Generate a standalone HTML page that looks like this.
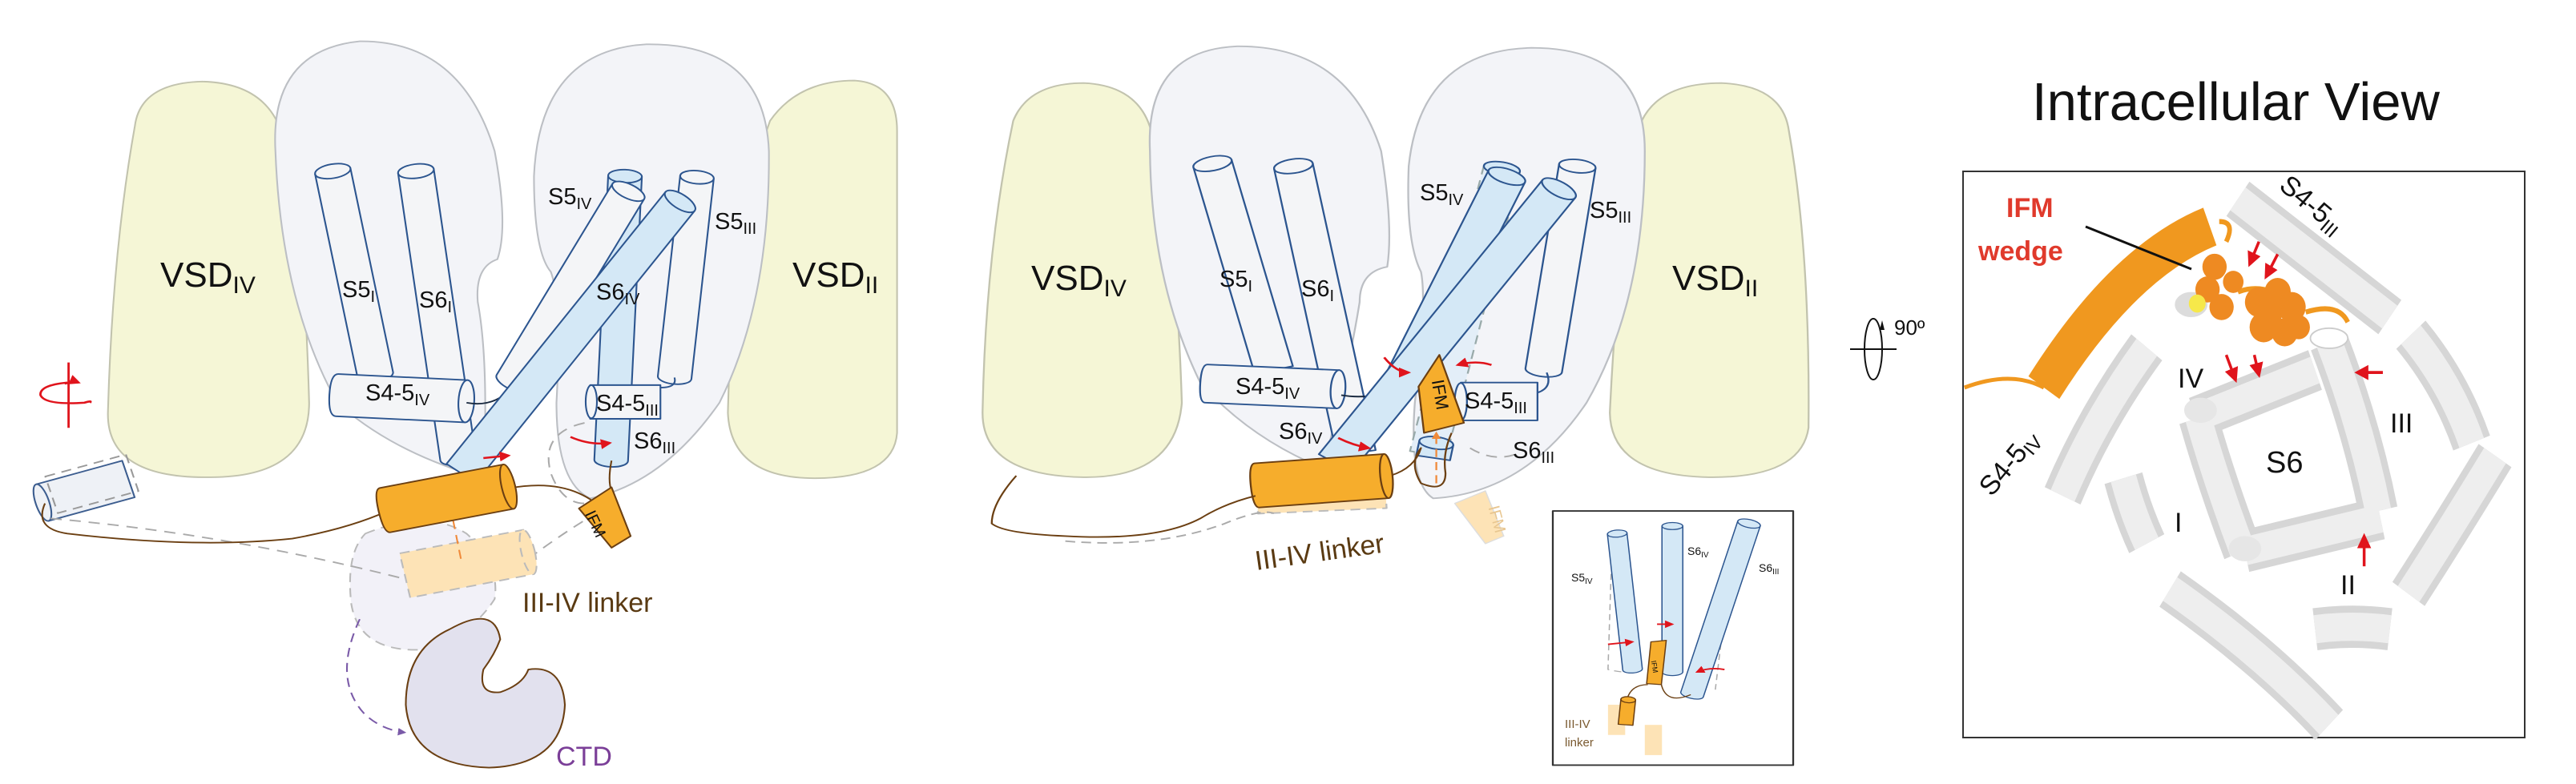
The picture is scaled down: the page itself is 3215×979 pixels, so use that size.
<!DOCTYPE html>
<html><head><meta charset="utf-8"><style>
html,body{margin:0;padding:0;background:#fff;}
svg{display:block;font-family:"Liberation Sans",Arial,sans-serif;}
</style></head><body>
<svg width="3215" height="979" viewBox="0 0 3215 979" xmlns="http://www.w3.org/2000/svg">
<defs>
<marker id="ar" viewBox="0 0 10 10" refX="8" refY="5" markerWidth="5" markerHeight="5" orient="auto"><path d="M0 0 L10 5 L0 10 Z" fill="#e0141c"/></marker>
<marker id="ap" viewBox="0 0 10 10" refX="8" refY="5" markerWidth="5" markerHeight="5" orient="auto"><path d="M0 0 L10 5 L0 10 Z" fill="#7a5aa8"/></marker>
<marker id="ao" viewBox="0 0 10 10" refX="8" refY="5" markerWidth="5" markerHeight="5" orient="auto"><path d="M0 0 L10 5 L0 10 Z" fill="#f08a3a"/></marker>
</defs>

<!-- ================= PANEL 1 ================= -->
<g transform="scale(0.7015,0.6286)" stroke-linejoin="round">
  <path d="M240 250 Q250 165 360 162 Q470 165 500 260 Q540 400 550 800 Q550 950 370 948 Q190 950 192 820 Q200 500 240 250 Z" fill="#f5f6d6" stroke="#c2c3ae" stroke-width="3"/>
  <path d="M1370 240 Q1420 160 1520 160 Q1596 165 1596 260 L1596 860 Q1590 950 1450 950 Q1300 950 1295 820 Q1300 600 1320 400 Z" fill="#f5f6d6" stroke="#c2c3ae" stroke-width="3"/>
  <path d="M490 300 Q480 100 640 82 Q820 80 880 300 Q905 450 885 515 Q845 530 850 600 Q870 720 860 950 Q700 900 600 800 Q500 600 490 300 Z" fill="#f3f4f8" stroke="#bcbfc4" stroke-width="3"/>
  <path d="M950 350 Q960 100 1150 88 Q1360 85 1368 300 Q1370 600 1280 800 Q1180 960 1050 990 Q990 960 990 800 Q1000 600 980 540 Q950 500 950 350 Z" fill="#f3f4f8" stroke="#bcbfc4" stroke-width="3"/>
  <path d="M650 1060 Q760 1010 830 1060 Q890 1120 880 1190 Q840 1260 760 1290 Q640 1300 625 1200 Q615 1100 650 1060 Z" fill="#efeef7" stroke="#aaa" stroke-width="3" stroke-dasharray="18 12" opacity="0.8"/>
  <g transform="translate(1112,350) rotate(2.5)"><path d="M-30 0 V565 A30 13 0 0 0 30 565 V0 Z" fill="#d4e8f6" stroke="#2c558f" stroke-width="3"/><ellipse rx="30" ry="13" fill="#d4e8f6" stroke="#2c558f" stroke-width="3"/></g>
  <g transform="translate(1240,352) rotate(5.7)"><path d="M-30 0 V400 A30 13 0 0 0 30 400 V0 Z" fill="#f4f5f7" stroke="#2c558f" stroke-width="3"/><ellipse rx="30" ry="13" fill="#f4f5f7" stroke="#2c558f" stroke-width="3"/></g>
  <g transform="translate(592,340) rotate(-10.6)"><path d="M-32 0 V412 A32 14 0 0 0 32 412 V0 Z" fill="#f4f5f7" stroke="#2c558f" stroke-width="3"/><ellipse rx="32" ry="14" fill="#f4f5f7" stroke="#2c558f" stroke-width="3"/></g>
  <g transform="translate(740,340) rotate(-7.5)"><path d="M-32 0 V575 A32 14 0 0 0 32 575 V0 Z" fill="#f4f5f7" stroke="#2c558f" stroke-width="3"/><ellipse rx="32" ry="14" fill="#f4f5f7" stroke="#2c558f" stroke-width="3"/></g>
  <g transform="translate(600,785) rotate(3)"><path d="M0 -42 H230 V42 H0 Q-14 42 -14 0 Q-14 -42 0 -42 Z" fill="#f4f5f7" stroke="#2c558f" stroke-width="3"/><ellipse cx="230" rx="14" ry="42" fill="#f4f5f7" stroke="#2c558f" stroke-width="3"/></g>
  <path d="M830 800 Q880 810 910 770" fill="none" stroke="#1a2a40" stroke-width="3"/>
  <g><path d="M1050 765 H1175 V832 H1050 Q1040 800 1050 765 Z" fill="#f4f5f7" stroke="#2c558f" stroke-width="3"/><ellipse cx="1052" cy="798" rx="10" ry="33" fill="#f4f5f7" stroke="#2c558f" stroke-width="3"/></g>
  <path d="M1175 770 Q1205 770 1200 750" fill="none" stroke="#2c558f" stroke-width="3"/>
  <g transform="translate(1118,380) rotate(28.5)"><path d="M-32 0 V432 A32 14 0 0 0 32 432 V0 Z" fill="#f4f5f7" stroke="#2c558f" stroke-width="3"/><ellipse rx="32" ry="14" fill="#f4f5f7" stroke="#2c558f" stroke-width="3"/></g>
  <g transform="translate(1210,400) rotate(35.8)"><path d="M-32 0 V666 L32 666 V0 Z" fill="#d4e8f6" stroke="#2c558f" stroke-width="3"/><ellipse rx="32" ry="14" fill="#d4e8f6" stroke="#2c558f" stroke-width="3"/></g>
  <g transform="translate(152,975) rotate(-17)"><rect x="-80" y="-38" width="160" height="76" fill="#eef1f6" stroke="#3c5d8f" stroke-width="3"/><ellipse cx="-80" rx="12" ry="38" fill="#eef1f6" stroke="#3c5d8f" stroke-width="3"/><rect x="-60" y="-48" width="150" height="76" fill="none" stroke="#999" stroke-width="3" stroke-dasharray="18 12"/></g>
  <path d="M90 1030 Q400 1060 720 1150" fill="none" stroke="#aaa" stroke-width="3" stroke-dasharray="20 14"/>
  <path d="M940 1110 Q1000 1060 1060 1020" fill="none" stroke="#aaa" stroke-width="3" stroke-dasharray="20 14"/>
  <path d="M1040 840 Q960 860 980 940 Q1000 1000 1040 1000" fill="none" stroke="#aaa" stroke-width="3" stroke-dasharray="20 14"/>
  <g transform="translate(830,1120) rotate(-12)"><rect x="-112" y="-45" width="225" height="90" fill="#fde3b6" stroke="#bbb" stroke-width="3" stroke-dasharray="18 12"/><ellipse cx="112" rx="12" ry="45" fill="#fde3b6" stroke="#bbb" stroke-width="3" stroke-dasharray="18 12"/></g>
  <path d="M820 1110 L800 1000" stroke="#f08a3a" stroke-width="3" stroke-dasharray="18 12" marker-end="url(#ao)"/>
  <path d="M80 1000 Q60 1050 120 1060 Q350 1090 520 1070 Q620 1050 690 1015" fill="none" stroke="#6b3f12" stroke-width="3"/>
  <path d="M905 970 Q980 955 1030 980 Q1060 995 1065 1010" fill="none" stroke="#6b3f12" stroke-width="3"/>
  <path d="M1088 915 Q1080 960 1090 980" fill="none" stroke="#6b3f12" stroke-width="3"/>
  <g transform="translate(795,990) rotate(-12)"><path d="M-112 -45 H112 V45 H-112 Q-124 45 -124 0 Q-124 -45 -112 -45 Z" fill="#f6ad2c" stroke="#6b3f12" stroke-width="3"/><ellipse cx="112" rx="12" ry="45" fill="#f6ad2c" stroke="#6b3f12" stroke-width="3"/></g>
  <polygon points="1030,1010 1088,968 1122,1065 1088,1088" fill="#f6ad2c" stroke="#6b3f12" stroke-width="3"/>
  <path d="M800 1250 Q880 1200 890 1270 Q880 1300 860 1330 Q850 1380 890 1375 Q930 1360 940 1330 Q1000 1320 1005 1400 Q1000 1520 870 1525 Q730 1520 722 1400 Q722 1290 800 1250 Z" fill="#e2e1ee" stroke="#6b3f12" stroke-width="3"/>
  <path d="M640 1230 Q590 1350 650 1420 Q680 1450 720 1455" fill="none" stroke="#7a5aa8" stroke-width="3" stroke-dasharray="18 12" marker-end="url(#ap)"/>
  <path d="M860 910 L905 905" stroke="#e0141c" stroke-width="4" marker-end="url(#ar)"/>
  <path d="M1015 868 Q1050 885 1085 880" fill="none" stroke="#e0141c" stroke-width="4" marker-end="url(#ar)"/>
  <line x1="122" y1="720" x2="122" y2="850" stroke="#e0141c" stroke-width="4"/>
  <path d="M120 760 Q70 765 72 785 Q80 805 150 800 Q165 795 160 800" fill="none" stroke="#e0141c" stroke-width="4"/>
  <path d="M115 762 Q135 758 140 760" fill="none" stroke="#e0141c" stroke-width="4" marker-end="url(#ar)"/>
</g>
<g font-size="44" fill="#111">
  <text x="200" y="358">VSD<tspan font-size="30" dy="8">IV</tspan></text>
  <text x="989" y="358">VSD<tspan font-size="30" dy="8">II</tspan></text>
</g>
<g font-size="29" fill="#111">
  <text x="427" y="371">S5<tspan font-size="20" dy="6">I</tspan></text>
  <text x="523" y="384">S6<tspan font-size="20" dy="6">I</tspan></text>
  <text x="684" y="255">S5<tspan font-size="20" dy="6">IV</tspan></text>
  <text x="744" y="374">S6<tspan font-size="20" dy="6">IV</tspan></text>
  <text x="892" y="286">S5<tspan font-size="20" dy="6">III</tspan></text>
  <text x="456" y="500">S4-5<tspan font-size="20" dy="6">IV</tspan></text>
  <text x="744" y="513">S4-5<tspan font-size="20" dy="6">III</tspan></text>
  <text x="791" y="560">S6<tspan font-size="20" dy="6">III</tspan></text>
</g>
<text x="737" y="657" font-size="20" fill="#111" transform="rotate(65 737 657)" text-anchor="middle">IFM</text>
<text x="652" y="764" font-size="34" fill="#5a3a12">III-IV linker</text>
<text x="694" y="956" font-size="34" fill="#7b3f98">CTD</text>

<!-- ================= PANEL 2 ================= -->
<g transform="translate(1100,0) scale(0.7653,0.6286)" stroke-linejoin="round">
  <path d="M215 240 Q240 165 330 165 Q420 170 440 260 Q480 420 490 800 Q480 950 330 948 Q165 945 165 820 Q170 500 215 240 Z" fill="#f5f6d6" stroke="#c2c3ae" stroke-width="3"/>
  <path d="M1240 240 Q1270 165 1370 165 Q1470 170 1480 260 Q1515 500 1512 850 Q1500 950 1350 948 Q1190 945 1188 820 Q1200 500 1240 240 Z" fill="#f5f6d6" stroke="#c2c3ae" stroke-width="3"/>
  <path d="M438 300 Q430 100 580 92 Q760 90 815 300 Q835 450 825 530 Q780 540 780 600 Q760 750 720 930 Q600 870 520 760 Q440 560 438 300 Z" fill="#f3f4f8" stroke="#bcbfc4" stroke-width="3"/>
  <path d="M860 330 Q880 100 1060 95 Q1245 95 1245 300 Q1245 600 1150 800 Q1050 980 900 990 Q860 960 870 800 Q890 600 880 540 Q855 480 860 330 Z" fill="#f3f4f8" stroke="#bcbfc4" stroke-width="3"/>
  <g transform="translate(1012,335) rotate(12)"><path d="M-30 0 V580 L30 580 V0 Z" fill="#e3eef8" stroke="#9aa" stroke-width="3" stroke-dasharray="18 12"/><ellipse rx="30" ry="13" fill="#d4e8f6" stroke="#2c558f" stroke-width="3"/></g>
  <g transform="translate(1135,330) rotate(7.7)"><path d="M-30 0 V409 A30 13 0 0 0 30 409 V0 Z" fill="#f4f5f7" stroke="#2c558f" stroke-width="3"/><ellipse rx="30" ry="13" fill="#f4f5f7" stroke="#2c558f" stroke-width="3"/></g>
  <g transform="translate(540,325) rotate(-13.7)"><path d="M-32 0 V422 L32 422 V0 Z" fill="#f4f5f7" stroke="#2c558f" stroke-width="3"/><ellipse rx="32" ry="14" fill="#f4f5f7" stroke="#2c558f" stroke-width="3"/></g>
  <g transform="translate(672,330) rotate(-10.2)"><path d="M-32 0 V579 L32 579 V0 Z" fill="#f4f5f7" stroke="#2c558f" stroke-width="3"/><ellipse rx="32" ry="14" fill="#f4f5f7" stroke="#2c558f" stroke-width="3"/></g>
  <g transform="translate(530,762) rotate(3)"><path d="M0 -38 H215 V38 H0 Q-10 38 -10 0 Q-10 -38 0 -38 Z" fill="#f4f5f7" stroke="#2c558f" stroke-width="3"/><ellipse cx="215" rx="12" ry="38" fill="#f4f5f7" stroke="#2c558f" stroke-width="3"/></g>
  <path d="M750 785 Q800 795 840 770" fill="none" stroke="#1a2a40" stroke-width="3"/>
  <g><path d="M945 760 H1070 V835 H945 Q935 800 945 760 Z" fill="#f4f5f7" stroke="#2c558f" stroke-width="3"/><ellipse cx="945" cy="798" rx="10" ry="37" fill="#f4f5f7" stroke="#2c558f" stroke-width="3"/></g>
  <path d="M1070 780 Q1095 770 1085 740" fill="none" stroke="#2c558f" stroke-width="3"/>
  <g transform="translate(1020,350) rotate(22.5)"><path d="M-32 0 V444 A32 14 0 0 0 32 444 V0 Z" fill="#d4e8f6" stroke="#2c558f" stroke-width="3"/><ellipse rx="32" ry="14" fill="#d4e8f6" stroke="#2c558f" stroke-width="3"/></g>
  <g transform="translate(1105,375) rotate(33.8)"><path d="M-32 0 V656 L32 656 V0 Z" fill="#d4e8f6" stroke="#2c558f" stroke-width="3"/><ellipse rx="32" ry="14" fill="#d4e8f6" stroke="#2c558f" stroke-width="3"/></g>
  <path d="M960 890 Q1000 920 1040 900" fill="none" stroke="#aaa" stroke-width="3" stroke-dasharray="18 12"/>
  <g transform="translate(905,880) rotate(10)"><rect x="-28" y="0" width="56" height="30" fill="#d4e8f6" stroke="#2c558f" stroke-width="3"/><ellipse rx="28" ry="12" fill="#d4e8f6" stroke="#2c558f" stroke-width="3"/></g>
  <polygon points="935,1000 985,975 1015,1065 985,1080" fill="#fde3b6" stroke="#ddd" stroke-width="2"/>
  <polygon points="910,705 950,840 885,860 876,768" fill="#f6ad2c" stroke="#6b3f12" stroke-width="3"/>
  <path d="M905 960 L905 860" stroke="#f08a3a" stroke-width="3" stroke-dasharray="16 10" marker-end="url(#ao)"/>
  <path d="M830 945 Q870 930 880 890 Q860 920 880 960 Q920 980 920 940 Q915 900 930 860" fill="none" stroke="#6b3f12" stroke-width="3"/>
  <rect x="612" y="930" width="210" height="85" fill="#fde3b6" stroke="#bbb" stroke-width="3" stroke-dasharray="16 10" transform="rotate(-3 718 975)"/>
  <g transform="translate(718,955) rotate(-5)"><path d="M-106 -44 H106 V44 H-106 Q-116 44 -116 0 Q-116 -44 -106 -44 Z" fill="#f6ad2c" stroke="#6b3f12" stroke-width="3"/><ellipse cx="106" rx="10" ry="44" fill="#f6ad2c" stroke="#6b3f12" stroke-width="3"/></g>
  <path d="M220 945 Q180 1000 180 1040 Q200 1060 300 1065 Q450 1075 520 1030 Q560 1000 610 985" fill="none" stroke="#6b3f12" stroke-width="3"/>
  <path d="M300 1075 Q450 1090 560 1040 Q620 1010 640 1020" fill="none" stroke="#aaa" stroke-width="3" stroke-dasharray="16 10"/>
  <path d="M820 710 Q840 740 860 740" fill="none" stroke="#e0141c" stroke-width="4" marker-end="url(#ar)"/>
  <path d="M995 725 Q970 715 940 725" fill="none" stroke="#e0141c" stroke-width="4" marker-end="url(#ar)"/>
  <path d="M745 870 Q770 885 795 890" fill="none" stroke="#e0141c" stroke-width="4" marker-end="url(#ar)"/>
  <rect x="1095" y="1015" width="392" height="505" fill="#fff" stroke="#333" stroke-width="3"/>
  <path d="M1190 1140 L1185 1330 Q1220 1340 1240 1330" fill="none" stroke="#aaa" stroke-width="2" stroke-dasharray="12 8"/>
  <path d="M1385 1120 L1360 1370" fill="none" stroke="#aaa" stroke-width="2" stroke-dasharray="12 8"/>
  <g transform="translate(1200,1060) rotate(-5.3)"><path d="M-16 0 V271 A16 7 0 0 0 16 271 V0 Z" fill="#d4e8f6" stroke="#2c558f" stroke-width="2"/><ellipse rx="16" ry="7" fill="#d4e8f6" stroke="#2c558f" stroke-width="2"/></g>
  <g transform="translate(1290,1045)"><path d="M-17 0 V290 A17 7 0 0 0 17 290 V0 Z" fill="#d4e8f6" stroke="#2c558f" stroke-width="2"/><ellipse rx="17" ry="7" fill="#d4e8f6" stroke="#2c558f" stroke-width="2"/></g>
  <g transform="translate(1415,1040) rotate(15.3)"><path d="M-19 0 V352 A19 8 0 0 0 19 352 V0 Z" fill="#d4e8f6" stroke="#2c558f" stroke-width="2"/><ellipse rx="19" ry="8" fill="#d4e8f6" stroke="#2c558f" stroke-width="2"/></g>
  <polygon points="1255,1275 1280,1272 1272,1360 1248,1358" fill="#f6ad2c" stroke="#6b3f12" stroke-width="2"/>
  <path d="M1215 1395 Q1220 1360 1250 1360 M1272 1360 Q1280 1400 1320 1380" fill="none" stroke="#6b3f12" stroke-width="2"/>
  <rect x="1185" y="1400" width="28" height="60" fill="#fde3b6"/>
  <rect x="1245" y="1440" width="28" height="60" fill="#fde3b6"/>
  <g transform="translate(1218,1390) rotate(5)"><rect x="-12" y="0" width="24" height="50" fill="#f6ad2c" stroke="#6b3f12" stroke-width="2"/><ellipse rx="12" ry="6" fill="#f6ad2c" stroke="#6b3f12" stroke-width="2"/></g>
  <path d="M1185 1280 L1225 1275" stroke="#e0141c" stroke-width="3" marker-end="url(#ar)"/>
  <path d="M1265 1240 L1290 1240" stroke="#e0141c" stroke-width="3" marker-end="url(#ar)"/>
  <path d="M1375 1330 Q1350 1325 1330 1335" fill="none" stroke="#e0141c" stroke-width="3" marker-end="url(#ar)"/>
</g>
<g font-size="44" fill="#111">
  <text x="1287" y="362">VSD<tspan font-size="30" dy="8">IV</tspan></text>
  <text x="2087" y="362">VSD<tspan font-size="30" dy="8">II</tspan></text>
</g>
<g font-size="29" fill="#111">
  <text x="1522" y="358">S5<tspan font-size="20" dy="6">I</tspan></text>
  <text x="1624" y="370">S6<tspan font-size="20" dy="6">I</tspan></text>
  <text x="1772" y="250">S5<tspan font-size="20" dy="6">IV</tspan></text>
  <text x="1984" y="272">S5<tspan font-size="20" dy="6">III</tspan></text>
  <text x="1542" y="492">S4-5<tspan font-size="20" dy="6">IV</tspan></text>
  <text x="1828" y="510">S4-5<tspan font-size="20" dy="6">III</tspan></text>
  <text x="1596" y="548">S6<tspan font-size="20" dy="6">IV</tspan></text>
  <text x="1888" y="572">S6<tspan font-size="20" dy="6">III</tspan></text>
</g>
<text x="1790" y="494" font-size="22" fill="#111" transform="rotate(80 1790 494)" text-anchor="middle">IFM</text>
<text x="1862" y="650" font-size="20" fill="#e8c690" transform="rotate(75 1862 650)" text-anchor="middle">IFM</text>
<text x="1568" y="712" font-size="34" fill="#5a3a12" transform="rotate(-8 1568 712)">III-IV linker</text>
<g font-size="14" fill="#111">
  <text x="1961" y="726">S5<tspan font-size="10" dy="3">IV</tspan></text>
  <text x="2106" y="693">S6<tspan font-size="10" dy="3">IV</tspan></text>
  <text x="2195" y="714">S6<tspan font-size="10" dy="3">III</tspan></text>
</g>
<text x="2062" y="833" font-size="9" fill="#111" transform="rotate(80 2062 833)" text-anchor="middle">IFM</text>
<text x="1953" y="909" font-size="15" fill="#7a5a30">III-IV</text>
<text x="1953" y="932" font-size="15" fill="#7a5a30">linker</text>

<!-- ================= PANEL 3 ================= -->
<text x="2536" y="150" font-size="67" fill="#111">Intracellular View</text>
<ellipse cx="2338" cy="436" rx="11" ry="38" fill="none" stroke="#111" stroke-width="2"/>
<line x1="2309" y1="436" x2="2367" y2="436" stroke="#111" stroke-width="2"/>
<path d="M2346 412 L2349 400 L2352 412 Z" fill="#111"/>
<text x="2364" y="418" font-size="26" fill="#111">90º</text>
<rect x="2450" y="214" width="701" height="707" fill="#fff" stroke="#333" stroke-width="2"/>
<g transform="translate(2300,0) scale(0.5835,0.6286)" fill="none" stroke-linecap="butt">
  <g stroke="#d6d6d6" stroke-width="84">
    <path d="M845 395 L1170 630"/>
    <path d="M1215 665 Q1300 760 1345 880"/>
    <path d="M1395 905 Q1300 1050 1210 1180"/>
    <path d="M1010 1250 Q1090 1240 1170 1250"/>
    <path d="M700 1170 Q900 1300 1040 1440"/>
    <path d="M600 950 Q620 1020 650 1080"/>
    <path d="M650 690 Q540 830 470 985"/>
    <path d="M755 830 L1010 735"/>
    <path d="M1040 680 Q1110 850 1145 1015"/>
    <path d="M860 1095 L1150 1030"/>
    <path d="M760 830 Q800 960 855 1095"/>
  </g>
  <g stroke="#eeeeee" stroke-width="56">
    <path d="M845 395 L1170 630"/>
    <path d="M1215 665 Q1300 760 1345 880"/>
    <path d="M1395 905 Q1300 1050 1210 1180"/>
    <path d="M1010 1250 Q1090 1240 1170 1250"/>
    <path d="M700 1170 Q900 1300 1040 1440"/>
    <path d="M600 950 Q620 1020 650 1080"/>
    <path d="M650 690 Q540 830 470 985"/>
    <path d="M755 830 L1010 735"/>
    <path d="M1040 680 Q1110 850 1145 1015"/>
    <path d="M860 1095 L1150 1030"/>
    <path d="M760 830 Q800 960 855 1095"/>
  </g>
  <ellipse cx="1040" cy="672" rx="40" ry="20" fill="#fff" stroke="#ccc" stroke-width="3"/>
  <ellipse cx="765" cy="815" rx="35" ry="25" fill="#e6e6e6"/>
  <ellipse cx="860" cy="1090" rx="35" ry="25" fill="#e6e6e6"/>
  <ellipse cx="745" cy="605" rx="35" ry="25" fill="#dcdcdc"/>
  <path d="M785 450 Q600 520 430 770" stroke="#f0981f" stroke-width="80"/>
  <path d="M430 770 Q360 735 260 770" stroke="#f0981f" stroke-width="8"/>
  <path d="M805 440 Q840 440 820 480 M845 580 Q900 560 960 600 M990 620 Q1060 600 1080 640" stroke="#f0981f" stroke-width="10"/>
  <g fill="#ee8a22">
    <circle cx="795" cy="530" r="26"/><circle cx="780" cy="575" r="26"/><circle cx="810" cy="610" r="26"/><circle cx="835" cy="560" r="22"/>
    <circle cx="890" cy="600" r="30"/><circle cx="930" cy="580" r="28"/><circle cx="960" cy="610" r="30"/><circle cx="900" cy="650" r="30"/><circle cx="945" cy="660" r="28"/><circle cx="975" cy="650" r="24"/><circle cx="915" cy="625" r="24"/>
  </g>
  <circle cx="758" cy="603" r="18" fill="#f6e84a"/>
  <g stroke="#e0141c" stroke-width="6" marker-end="url(#ar)">
    <path d="M890 480 L870 525"/><path d="M930 505 L905 550"/>
    <path d="M820 705 L840 755"/><path d="M880 705 L890 745"/>
    <path d="M1155 740 L1100 740"/><path d="M1115 1125 L1115 1065"/>
  </g>
</g>
<line x1="2603" y1="283" x2="2735" y2="336" stroke="#111" stroke-width="3"/>
<text x="2504" y="271" font-size="34" font-weight="bold" fill="#e03a2c">IFM</text>
<text x="2469" y="325" font-size="34" font-weight="bold" fill="#e03a2c">wedge</text>
<text x="2878" y="264" font-size="34" fill="#111" transform="rotate(40 2878 264)" text-anchor="middle">S4-5<tspan font-size="24" dy="6">III</tspan></text>
<text x="2516" y="585" font-size="34" fill="#111" transform="rotate(-50 2516 585)" text-anchor="middle">S4-5<tspan font-size="24" dy="6">IV</tspan></text>
<text x="2718" y="484" font-size="34" fill="#111">IV</text>
<text x="2828" y="590" font-size="38" fill="#111">S6</text>
<text x="2983" y="540" font-size="34" fill="#111">III</text>
<text x="2714" y="664" font-size="34" fill="#111">I</text>
<text x="2921" y="742" font-size="34" fill="#111">II</text>
</svg>
</body></html>
